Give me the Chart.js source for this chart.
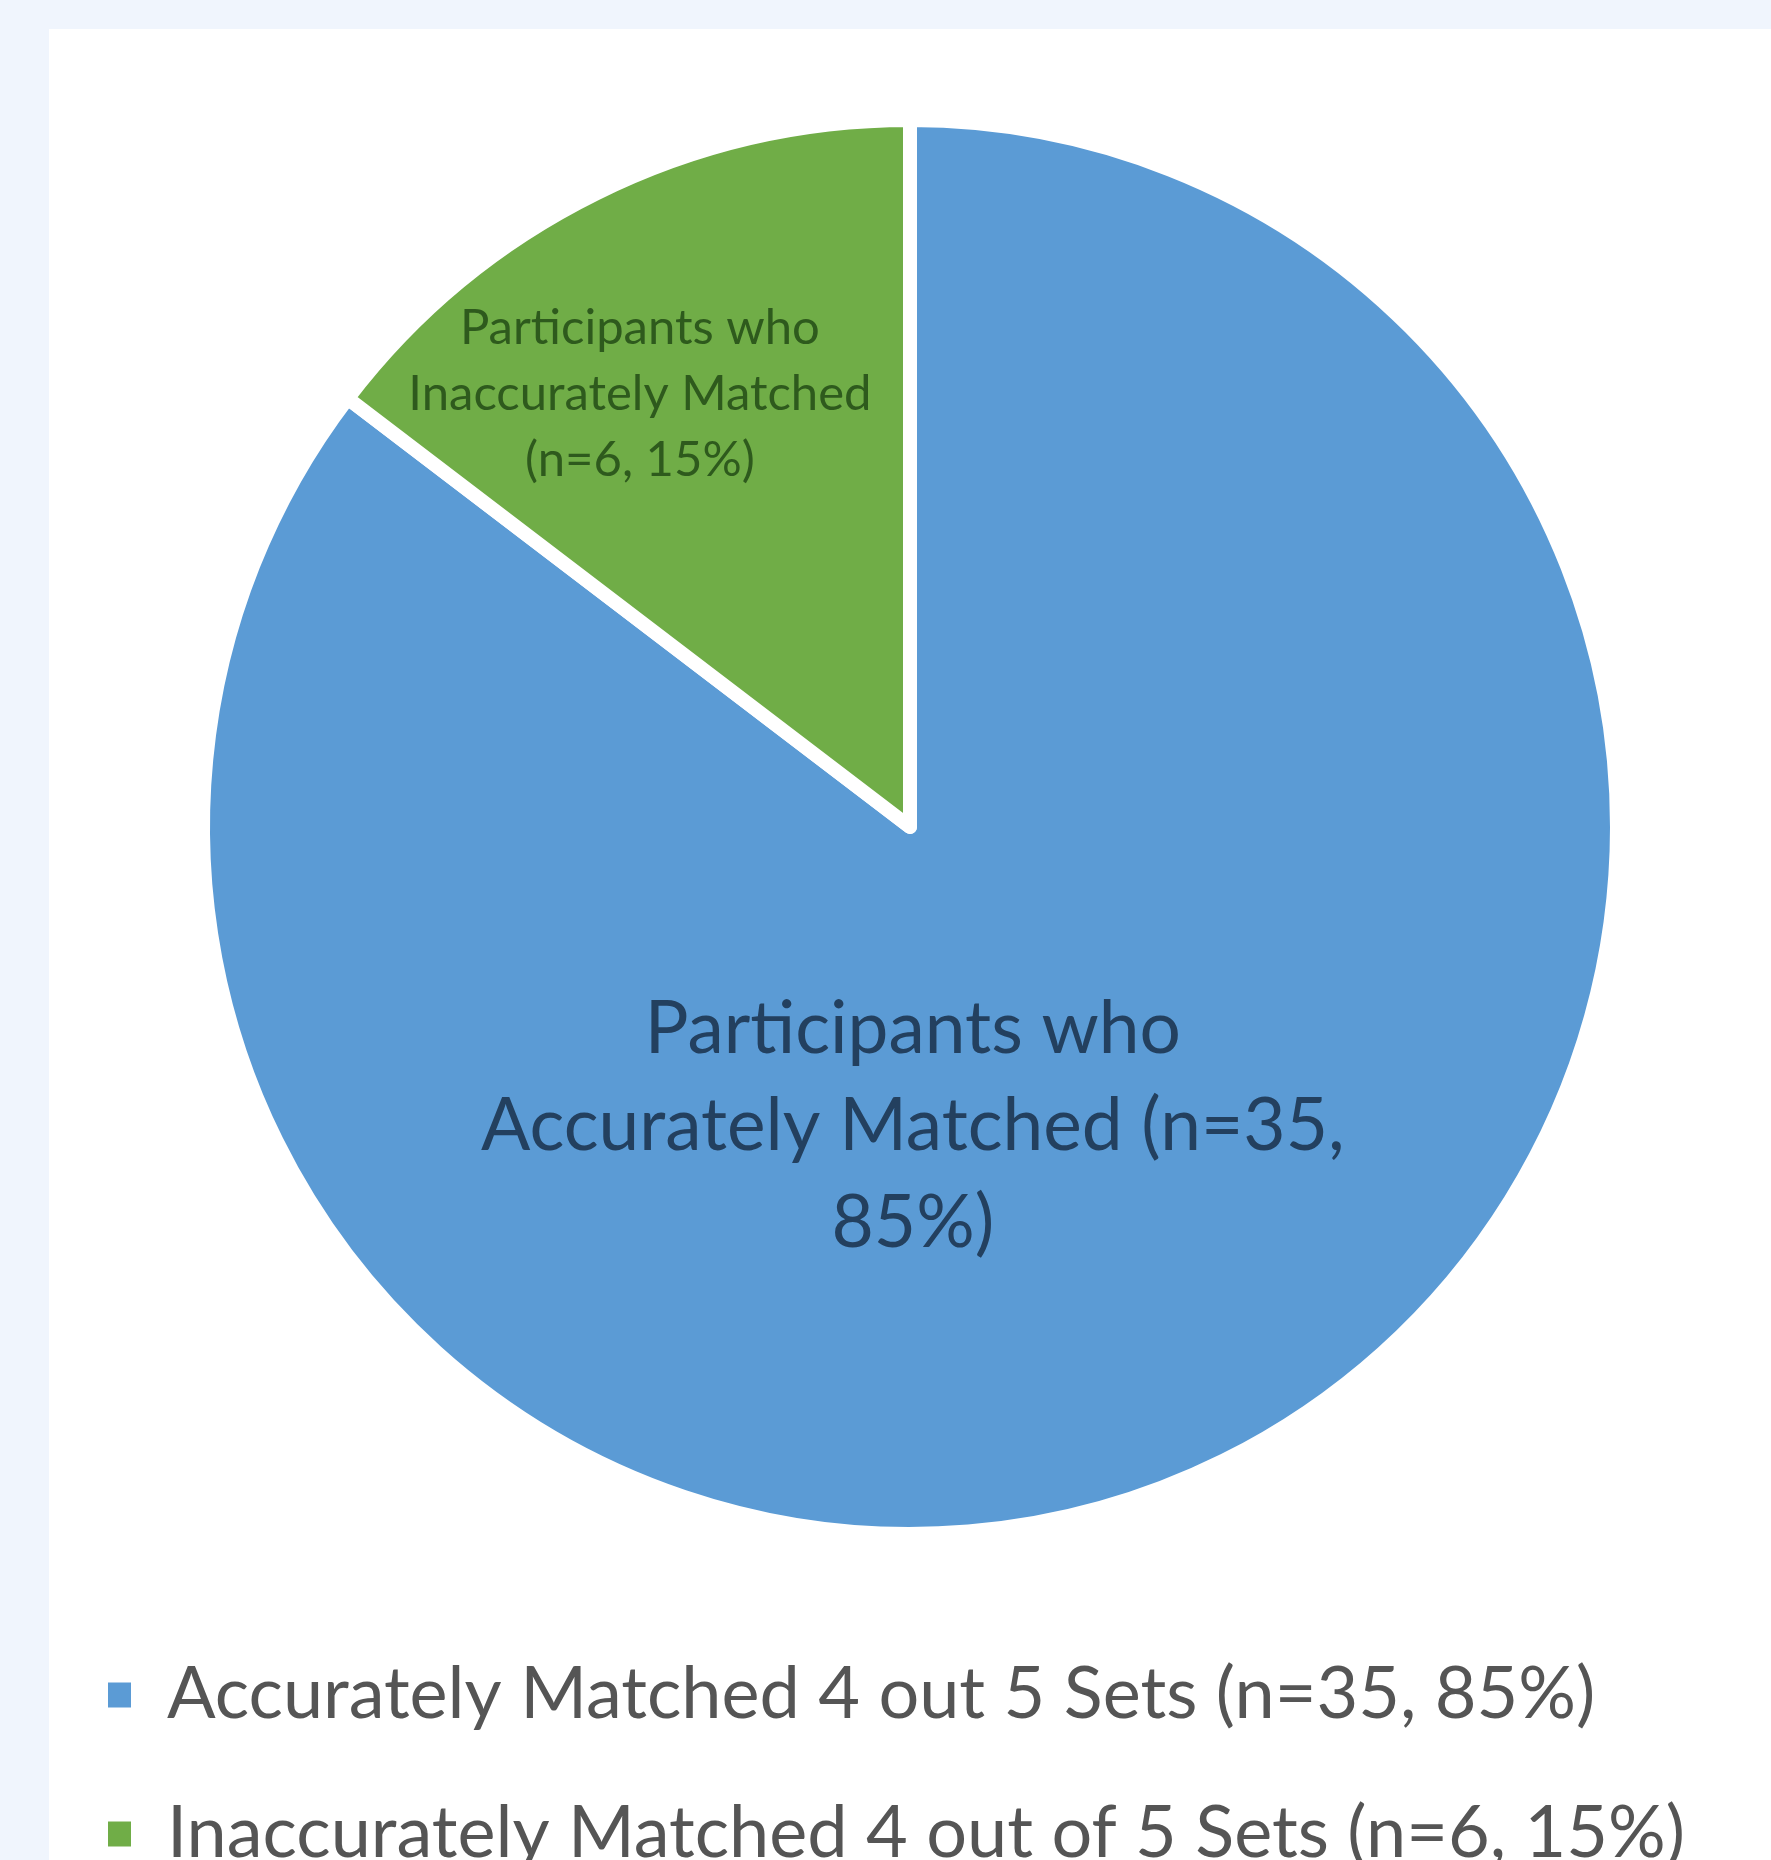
<!DOCTYPE html>
<html>
<head>
<meta charset="utf-8">
<script src="https://cdn.jsdelivr.net/npm/chart.js@4.4.1/dist/chart.umd.min.js"></script>
<style>
  html, body { margin: 0; padding: 0; overflow: hidden; }
  body { width: 1771px; height: 1860px; background: #f0f5fd; position: relative; }
  #panel { position: absolute; left: 49px; top: 29px; right: 0; bottom: 0; background: #ffffff; }
  #matched { position: absolute; left: 41px; top: 29px; }
</style>
</head>
<body>
<div id="panel"></div>
<canvas id="matched" width="1738" height="1851" style="width:1738px;height:1851px"></canvas>
<script>
"use strict";

const categories = [
  "Accurately Matched 4 out 5 Sets (n=35, 85%)",
  "Inaccurately Matched 4 out of 5 Sets (n=6, 15%)",
];
const participants = [35, 6];
const sliceColors = ["#5b9bd5", "#70ad47"];
const sliceLabels = [
  ["Participants who", "Accurately Matched (n=35,", "85%)"],
  ["Participants who", "Inaccurately Matched", "(n=6, 15%)"],
];

// where each slice label sits: fraction of radius, turn off the bisector (deg)
const labelSpots = [
  { along: 0.424, turn: 25.8, size: 73, lineHeight: 97, color: "#23405f" },
  { along: 0.722, turn: -5.6, size: 49, lineHeight: 66, color: "#2e5a1d" },
];

const sliceText = {
  id: "sliceText",
  afterDatasetsDraw(chart) {
    const ctx = chart.ctx;
    const arcs = chart.getDatasetMeta(0).data;
    arcs.forEach((arc, i) => {
      const { x, y, startAngle, endAngle, outerRadius } = arc.getProps(
        ["x", "y", "startAngle", "endAngle", "outerRadius"],
        true
      );
      const spot = labelSpots[i];
      const mid = (startAngle + endAngle) / 2 + (spot.turn * Math.PI) / 180;
      const cx = x + Math.cos(mid) * outerRadius * spot.along;
      const cy = y + Math.sin(mid) * outerRadius * spot.along;
      const lines = sliceLabels[i];
      ctx.save();
      ctx.font = spot.size + "px Lato";
      ctx.fillStyle = spot.color;
      ctx.textAlign = "center";
      ctx.textBaseline = "middle";
      lines.forEach((line, k) => {
        const off = (k - (lines.length - 1) / 2) * spot.lineHeight;
        ctx.fillText(line, cx, cy + off);
      });
      ctx.restore();
    });
  },
};

new Chart(document.getElementById("matched"), {
  type: "pie",
  data: {
    labels: categories,
    datasets: [
      {
        data: participants,
        backgroundColor: sliceColors,
        borderColor: "#ffffff",
        borderWidth: 14,
        borderJoinStyle: "round",
      },
    ],
  },
  options: {
    responsive: false,
    animation: false,
    events: [],
    radius: 707,
    layout: {
      padding: { top: 33, bottom: 0, left: 0, right: 0 },
    },
    plugins: {
      tooltip: { enabled: false },
      legend: {
        position: "bottom",
        align: "start",
        labels: {
          boxWidth: 23,
          boxHeight: 25,
          padding: 67,
          color: "#555555",
          font: { family: "Lato", size: 72 },
          generateLabels: (chart) =>
            Chart.overrides.pie.plugins.legend.labels
              .generateLabels(chart)
              .map((item) => ({ ...item, lineWidth: 0, strokeStyle: "rgba(0,0,0,0)" })),
        },
      },
    },
  },
  plugins: [sliceText],
});
</script>
</body>
</html>
